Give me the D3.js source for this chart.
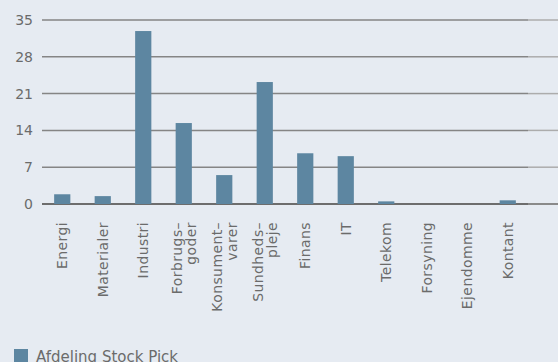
<!DOCTYPE html>
<html>
<head>
<meta charset="utf-8">
<style>
  body { margin: 0; background: #e6ebf2; }
  svg { display: block; font-family: "DejaVu Sans", sans-serif; }
</style>
</head>
<body>
<script src="https://d3js.org/d3.v7.min.js"></script>
<script>
const width = 558;
const height = 362;

// data
const categories = [
  ["Energi"], ["Materialer"], ["Industri"], ["Forbrugs–", "goder"],
  ["Konsument–", "varer"], ["Sundheds–", "pleje"], ["Finans"], ["IT"],
  ["Telekom"], ["Forsyning"], ["Ejendomme"], ["Kontant"]
];
const values = [1.85, 1.5, 32.9, 15.4, 5.5, 23.2, 9.65, 9.1, 0.5, 0, 0, 0.7];
const yTicks = [0, 7, 14, 21, 28, 35];
const seriesName = "Afdeling Stock Pick";

const margin = {top: 20, left: 42, right: 30, bottom: 158};
const plotRight = width - margin.right;

const svg = d3.select("body").append("svg")
  .attr("width", width).attr("height", height);

const keys = categories.map(c => c.join(" "));
const x = d3.scaleBand().domain(keys)
  .range([margin.left, plotRight]).paddingInner(0.6).paddingOuter(0.3);
const y = d3.scaleLinear().domain([0, 35]).range([height - margin.bottom, margin.top]);

// grid (lighter stub past the plot on the right)
const grid = svg.append("g");
yTicks.forEach(t => {
  grid.append("line")
    .attr("x1", margin.left).attr("x2", plotRight)
    .attr("y1", y(t)).attr("y2", y(t))
    .attr("stroke", t == 0 ? "#6d6d6d" : "#858585")
    .attr("stroke-width", t == 0 ? 2 : 1.5);
  grid.append("line")
    .attr("x1", plotRight).attr("x2", width)
    .attr("y1", y(t)).attr("y2", y(t))
    .attr("stroke", t == 0 ? "#8a8a8a" : "#acacac")
    .attr("stroke-width", t == 0 ? 2 : 1.5);
});

// y axis labels
const yAxis = d3.axisLeft(y).tickValues(yTicks).tickSize(0).tickPadding(9);
svg.append("g")
  .attr("transform", `translate(${margin.left},0)`)
  .call(yAxis)
  .call(g => g.select(".domain").remove())
  .call(g => g.selectAll("text")
    .attr("fill", "#6b6b6b")
    .attr("font-size", 14)
    .attr("font-family", "DejaVu Sans, sans-serif"));

// bars
svg.append("g").selectAll("rect")
  .data(values)
  .join("rect")
  .attr("x", (d, i) => x(keys[i]))
  .attr("width", x.bandwidth())
  .attr("y", d => y(d))
  .attr("height", d => y(0) - y(d))
  .attr("fill", "#5d86a1");

// x labels rotated
const labels = svg.append("g");
categories.forEach((lines, i) => {
  const cx = x(keys[i]) + x.bandwidth() / 2;
  const n = lines.length;
  lines.forEach((ln, j) => {
    const off = (j - (n - 1) / 2) * 14.5;
    labels.append("text")
      .attr("transform", `translate(${cx + off + 5},222) rotate(-90)`)
      .attr("text-anchor", "end")
      .attr("fill", "#6b6b6b")
      .attr("font-size", 14)
      .attr("letter-spacing", 0.4)
      .text(ln);
  });
});

// legend
const legend = svg.append("g").attr("transform", "translate(14,349)");
legend.append("rect").attr("width", 14).attr("height", 14).attr("fill", "#5d86a1");
legend.append("text")
  .attr("x", 22).attr("y", 13)
  .attr("fill", "#6b6b6b")
  .attr("font-size", 15)
  .text(seriesName);
</script>
</body>
</html>
